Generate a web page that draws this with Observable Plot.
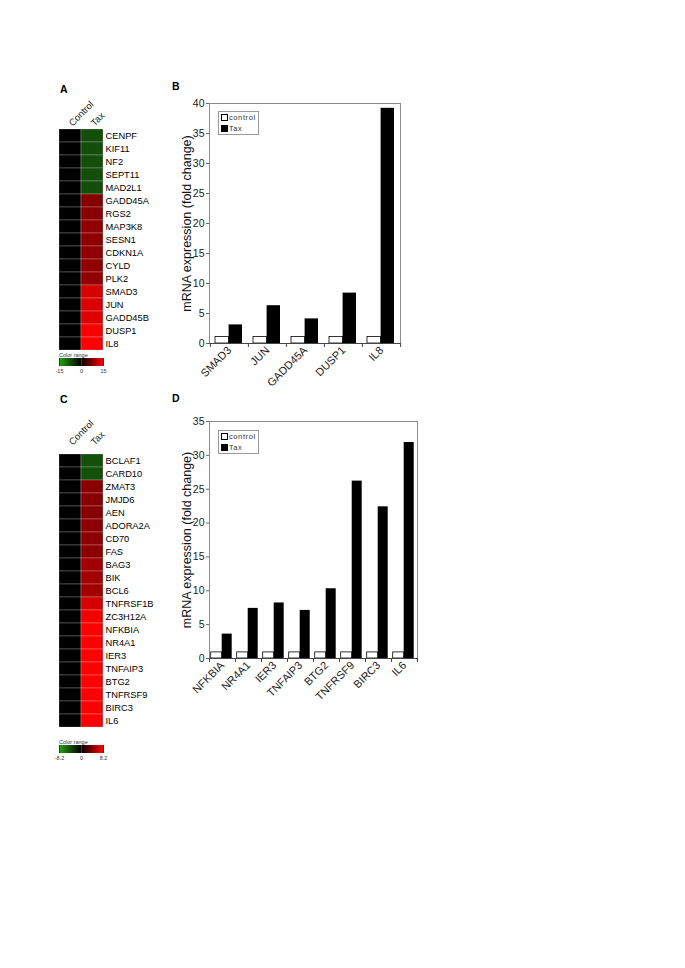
<!DOCTYPE html>
<html><head><meta charset="utf-8">
<script src="https://cdn.jsdelivr.net/npm/d3@7"></script>
<script src="https://cdn.jsdelivr.net/npm/@observablehq/plot@0.6"></script>
<style>
body{margin:0;background:#fff;font-family:Arial,"Liberation Sans",sans-serif;}
#page{position:relative;width:685px;height:968px;overflow:hidden;background:#fff}
.abs{position:absolute}
.panel{position:absolute;font-weight:bold;font-size:10.5px;line-height:11px;color:#000}
.leg{position:absolute;border:1px solid #999;background:#fff;font-size:7.5px;letter-spacing:0.6px;color:#333;padding:0 2px;line-height:11px;width:35px;white-space:nowrap;box-sizing:content-box}
.sw{display:inline-block;width:5px;height:5px;border:1px solid #000;margin-right:1px;vertical-align:-1px}
.ltitle{position:absolute;font-size:5.5px;line-height:6px;color:#333;white-space:nowrap}
</style></head><body><div id="page"></div>
<script>
// ---------- data ----------
const heatColumns = ["Control", "Tax"];
const genesA = ["CENPF","KIF11","NF2","SEPT11","MAD2L1","GADD45A","RGS2","MAP3K8","SESN1","CDKN1A","CYLD","PLK2","SMAD3","JUN","GADD45B","DUSP1","IL8"];
const controlA = [0,0,0,0,0,0,0,0,0,0,0,0,0,0,0,0,0];
const taxA = [-7.2,-7.2,-7.2,-7.2,-7.2,7.8,8,8.5,8.5,8.5,8.5,8.5,12.6,12.8,13.2,14.6,15];
const rangeA = [-15, 0, 15];
const legendTicksA = [-15, 0, 15];

const genesC = ["BCLAF1","CARD10","ZMAT3","JMJD6","AEN","ADORA2A","CD70","FAS","BAG3","BIK","BCL6","TNFRSF1B","ZC3H12A","NFKBIA","NR4A1","IER3","TNFAIP3","BTG2","TNFRSF9","BIRC3","IL6"];
const controlC = [0,0,0,0,0,0,0,0,0,0,0,0,0,0,0,0,0,0,0,0,0];
const taxC = [-4,-4,4.4,4.4,4.4,4.5,4.5,4.5,5.2,5.2,5.2,6.9,7.8,8.2,8.2,8.2,8.2,8.2,8.2,8.2,8.2];
const rangeC = [-8.2, 0, 8.2];
const legendTicksC = [-8.2, 0, 8.2];

const genesB = ["SMAD3","JUN","GADD45A","DUSP1","IL8"];
const controlB = [1.1,1.1,1.1,1.1,1.1];
const taxB = [3.1,6.3,4.1,8.4,39.2];
const yTicksB = [0,5,10,15,20,25,30,35,40];

const genesD = ["NFKBIA","NR4A1","IER3","TNFAIP3","BTG2","TNFRSF9","BIRC3","IL6"];
const controlD = [0.9,0.9,0.9,0.9,0.9,0.9,0.9,0.9];
const taxD = [3.6,7.4,8.2,7.1,10.3,26.2,22.4,31.9];
const yTicksD = [0,5,10,15,20,25,30,35];

const seriesNames = ["control", "Tax"];
const seriesFill = ["#fff", "#000"];
const heatColors = ["#27a314", "#000000", "#ff0000"];
const yTitle = "mRNA expression (fold change)";
const legendTitle = "Color range";

// ---------- helpers ----------
const page = document.getElementById("page");
function place(node, left, top) {
  const d = document.createElement("div");
  d.className = "abs"; d.style.left = left + "px"; d.style.top = top + "px";
  d.appendChild(node); page.appendChild(d);
}
function textDiv(cls, t, left, top) {
  const d = document.createElement("div");
  d.className = cls; d.textContent = t; d.style.left = left + "px"; d.style.top = top + "px";
  page.appendChild(d);
}
const font = "Arial, 'Liberation Sans', sans-serif";

function heatmap(genes, control, tax, domain, height) {
  const data = [];
  genes.forEach((g, i) => {
    data.push({col: heatColumns[0], gene: g, v: control[i]});
    data.push({col: heatColumns[1], gene: g, v: tax[i]});
  });
  return Plot.plot({
    width: 170, height,
    marginLeft: 59, marginRight: 67, marginTop: 30, marginBottom: 1,
    style: {fontFamily: font, fontSize: "9.3px", color: "#000", background: "transparent", overflow: "visible"},
    x: {domain: heatColumns, padding: 0},
    y: {domain: genes, padding: 0},
    color: {type: "linear", domain, range: heatColors, interpolate: "rgb"},
    marks: [
      Plot.cell(data, {x: "col", y: "gene", fill: "v", stroke: "#fff", strokeWidth: 0.5, strokeOpacity: 0.45}),
      Plot.axisX({anchor: "top", tickSize: 0, tickRotate: -45, tickPadding: 3, fontSize: 9.5, fill: "#222", label: null}),
      Plot.axisY({anchor: "right", tickSize: 0, tickPadding: 2, fontSize: 9.3, label: null})
    ]
  });
}

function heatLegend(domain, ticks) {
  return Plot.legend({
    color: {type: "linear", domain, range: heatColors, interpolate: "rgb"},
    label: null, ticks, tickSize: 0, tickFormat: d => String(d),
    width: 46, height: 17, marginLeft: 1, marginRight: 1, marginTop: 0, marginBottom: 9,
    style: {fontFamily: font, fontSize: "5.5px", color: "#333", background: "transparent", overflow: "visible"}
  });
}

function bars(genes, control, tax, yTicks, o) {
  const data = [];
  genes.forEach((g, i) => {
    data.push({gene: g, series: seriesNames[0], v: control[i]});
    data.push({gene: g, series: seriesNames[1], v: tax[i]});
  });
  const step = (o.width - o.ml - o.mr) / genes.length;
  return Plot.plot({
    width: o.width, height: o.height,
    marginLeft: o.ml, marginRight: o.mr, marginTop: o.mt, marginBottom: o.mb,
    style: {fontFamily: font, color: "#222", background: "transparent", overflow: "visible"},
    x: {domain: genes, padding: 0},
    y: {domain: [0, yTicks[yTicks.length - 1]]},
    marks: [
      Plot.frame({stroke: "#8c8c8c"}),
      Plot.barY(data.filter(d => d.series === seriesNames[0]), {x: "gene", y: "v", fill: seriesFill[0], stroke: "#000", strokeWidth: 0.8, insetLeft: o.cL, insetRight: o.cR}),
      Plot.barY(data.filter(d => d.series === seriesNames[1]), {x: "gene", y: "v", fill: seriesFill[1], insetLeft: o.tL, insetRight: o.tR}),
      Plot.ruleY([0], {stroke: "#444"}),
      Plot.ruleX(genes, {x: d => d, y1: 0, y2: 0, insetBottom: -4, dx: -step / 2, stroke: "#444"}),
      Plot.ruleX([genes[genes.length - 1]], {x: d => d, y1: 0, y2: 0, insetBottom: -4, dx: step / 2, stroke: "#444"}),
      Plot.axisY({ticks: yTicks, tickSize: 3, tickPadding: 2, fontSize: 10.5, label: null, stroke: "#666"}),
      Plot.axisX({tickSize: 0, tickRotate: -45, tickPadding: 5, fontSize: 11, label: null}),
      Plot.text([yTitle], {frameAnchor: "left", textAnchor: "middle", rotate: -90, dx: -23, fontSize: 12.5, fill: "#111"})
    ]
  });
}

function legendBox(left, top) {
  const d = document.createElement("div");
  d.className = "leg"; d.style.left = left + "px"; d.style.top = top + "px";
  seriesNames.forEach((s, i) => {
    const r = document.createElement("div");
    const sw = document.createElement("span");
    sw.className = "sw"; sw.style.background = seriesFill[i];
    r.appendChild(sw); r.appendChild(document.createTextNode(s));
    d.appendChild(r);
  });
  page.appendChild(d);
}

// ---------- layout ----------
textDiv("panel", "A", 60, 84);
place(heatmap(genesA, controlA, taxA, rangeA, 255), 0, 97);
textDiv("ltitle", legendTitle, 59, 352);
place(heatLegend(rangeA, legendTicksA), 58, 358);

textDiv("panel", "B", 172, 81);
place(bars(genesB, controlB, taxB, yTicksB, {width: 250, height: 297, ml: 49, mr: 10, mt: 11, mb: 46, cL: 5, cR: 19.6, tL: 18.6, tR: 6}), 160, 92);
legendBox(218, 111);

textDiv("panel", "C", 60, 394);
place(heatmap(genesC, controlC, taxC, rangeC, 320), 0, 416);
textDiv("ltitle", legendTitle, 59, 739);
place(heatLegend(rangeC, legendTicksC), 58, 745);

textDiv("panel", "D", 172, 393);
place(bars(genesD, controlD, taxD, yTicksD, {width: 270, height: 303, ml: 49, mr: 13, mt: 11, mb: 55, cL: 1.7, cR: 13.3, tL: 12.7, tR: 3.3}), 160, 410);
legendBox(218, 430);
</script></body></html>
